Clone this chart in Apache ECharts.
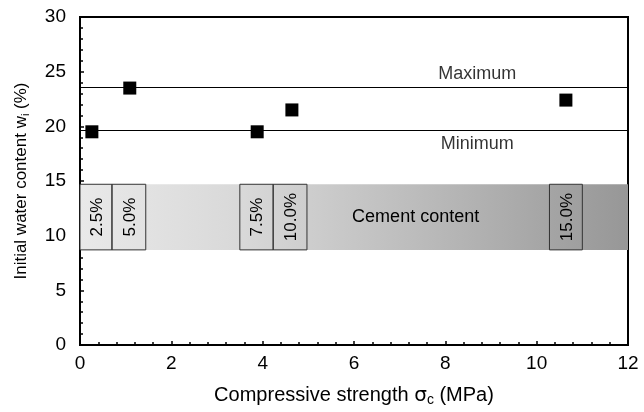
<!DOCTYPE html>
<html><head><meta charset="utf-8">
<script src="https://cdn.jsdelivr.net/npm/echarts@6/dist/echarts.min.js"></script>
<style>html,body{margin:0;padding:0;background:#fff}#c{width:644px;height:412px}</style>
</head><body><div id="c"></div>
<script>
var strength = [0.26, 1.09, 3.88, 4.64, 10.64];
var water = [19.5, 23.5, 19.5, 21.5, 22.4];
var maxLine = 23.6;
var minLine = 19.6;
var cementLabels = ['2.5%', '5.0%', '7.5%', '10.0%', '15.0%'];
var boxStart = [0, 0.7, 3.5, 4.23, 10.28];
var boxEnd = [0.7, 1.44, 4.23, 4.97, 11.0];
var bandLow = 8.7, bandHigh = 14.7;
var lineLabels = [{text: 'Maximum', x: 8.7, y: 24.8}, {text: 'Minimum', x: 8.7, y: 18.4}];

var FONT = 'Liberation Sans';
var chart = echarts.init(document.getElementById('c'));

function bandItem(params, api) {
  var p0 = api.coord([0, bandHigh]);
  var p1 = api.coord([12, bandLow]);
  var children = [{
    type: 'rect',
    shape: {x: p0[0], y: p0[1], width: p1[0] - p0[0], height: p1[1] - p0[1]},
    style: {fill: new echarts.graphic.LinearGradient(0, 0, 1, 0, [
      {offset: 0, color: '#e9e9e9'},
      {offset: 0.3, color: '#d8d8d8'},
      {offset: 0.6, color: '#bdbdbd'},
      {offset: 1, color: '#979797'}
    ])}
  }];
  var c = api.coord([7.35, (bandLow + bandHigh) / 2]);
  children.push({type: 'text', x: c[0], y: c[1], style: {text: 'Cement content', font: '18px "' + FONT + '"', fill: '#000', align: 'center', verticalAlign: 'middle'}});
  return {type: 'group', children: children};
}

function boxItem(params, api) {
  var i = params.dataIndex;
  var p0 = api.coord([boxStart[i], bandHigh]);
  var p1 = api.coord([boxEnd[i], bandLow]);
  return {type: 'group', children: [
    {type: 'rect', shape: {x: p0[0], y: p0[1], width: p1[0] - p0[0], height: p1[1] - p0[1]},
     style: {fill: 'rgba(0,0,0,0)', stroke: '#333', lineWidth: 1}},
    {type: 'text', x: (p0[0] + p1[0]) / 2 + 1, y: (p0[1] + p1[1]) / 2, rotation: Math.PI / 2,
     style: {text: cementLabels[i], font: '17px "' + FONT + '"', fill: '#000', align: 'center', verticalAlign: 'middle'}}
  ]};
}

chart.setOption({
  animation: false,
  backgroundColor: '#fff',
  grid: {left: 80, right: 16, top: 17, bottom: 65, show: true, borderColor: '#000', borderWidth: 2},
  xAxis: {
    type: 'value', min: 0, max: 12, interval: 2,
    axisLine: {show: true, onZero: false, lineStyle: {color: '#000', width: 2}},
    axisTick: {show: true, inside: true, length: 4, lineStyle: {color: '#000', width: 1.5}},
    minorTick: {show: true, splitNumber: 5, length: 3, lineStyle: {color: '#000', width: 1.5}},
    splitLine: {show: false},
    axisLabel: {color: '#000', fontSize: 19, fontFamily: FONT, margin: 9},
    name: '{a|Compressive strength }{g|σ}{s|c}{a| (MPa)}',
    nameLocation: 'middle', nameGap: 39,
    nameTextStyle: {rich: {
      a: {fontSize: 20, fontFamily: FONT, color: '#000'},
      g: {fontSize: 20, fontFamily: 'DejaVu Sans', color: '#000'},
      s: {fontSize: 14, fontFamily: FONT, color: '#000', padding: [9, 0, 0, 0]}
    }}
  },
  yAxis: {
    type: 'value', min: 0, max: 30, interval: 5,
    axisLine: {show: true, lineStyle: {color: '#000', width: 2}},
    axisTick: {show: true, inside: true, length: 4, lineStyle: {color: '#000', width: 1.5}},
    minorTick: {show: true, splitNumber: 5, length: 3, lineStyle: {color: '#000', width: 1.5}},
    splitLine: {show: false},
    axisLabel: {color: '#000', fontSize: 19, fontFamily: FONT, margin: 14},
    name: '{a|Initial water content w}{s|i}{a| (%)}',
    nameLocation: 'middle', nameGap: 49,
    nameTextStyle: {rich: {
      a: {fontSize: 17, fontFamily: FONT, color: '#000'},
      s: {fontSize: 11, fontFamily: FONT, color: '#000', padding: [8, 0, 0, 0]}
    }}
  },
  series: [
    {type: 'custom', renderItem: bandItem, data: [0], silent: true, z: 1},
    {type: 'custom', renderItem: boxItem, data: cementLabels.map(function (l, i) { return i; }), silent: true, z: 2},
    {type: 'line', data: [], z: 3,
     markLine: {silent: true, symbol: 'none', label: {show: false},
       lineStyle: {color: '#000', width: 1, type: 'solid', opacity: 1},
       data: [{yAxis: maxLine}, {yAxis: minLine}]}},
    {type: 'scatter', symbol: 'rect', symbolSize: 13, z: 5,
     itemStyle: {color: '#000', opacity: 1},
     data: strength.map(function (x, i) { return [x, water[i]]; })},
    {type: 'scatter', symbolSize: 0, z: 4, silent: true,
     label: {show: true, position: 'inside', formatter: function (p) { return lineLabels[p.dataIndex].text; },
       fontSize: 18, fontFamily: FONT, color: '#000'},
     data: lineLabels.map(function (d) { return [d.x, d.y]; })}
  ]
});
</script></body></html>
